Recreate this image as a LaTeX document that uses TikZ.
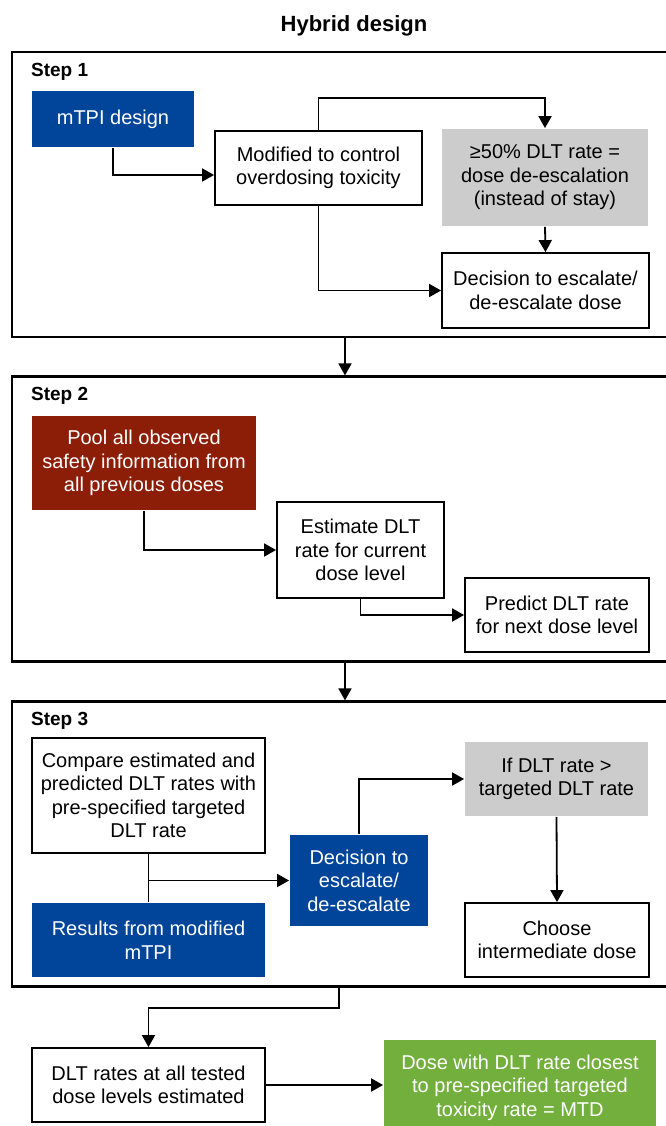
\documentclass[tikz,border=0pt]{standalone}
\usepackage{fontspec}
\setmainfont{Liberation Sans}
\usepackage{xcolor}
\usepackage{tikz}
\usetikzlibrary{arrows.meta, calc}

\definecolor{hbblue}{RGB}{0,69,153}
\definecolor{hbred}{RGB}{140,29,7}
\definecolor{hbgray}{RGB}{204,204,204}
\definecolor{hbgreen}{RGB}{115,175,60}

\begin{document}
\begin{tikzpicture}[
  x=1pt, y=-1pt,
  box/.style={draw, line width=1.8pt, minimum height=74pt, align=center,
              inner sep=2pt, font=\fontsize{20}{23.5}\selectfont},
  bluebox/.style={box, draw=none, fill=hbblue, text=white},
  redbox/.style ={box, draw=none, fill=hbred, text=white},
  graybox/.style={box, draw=none, fill=hbgray},
  greenbox/.style={box, draw=none, fill=hbgreen, text=white},
  stepframe/.style={draw, line width=2.2pt, minimum width=666pt,
                    minimum height=285pt, inner sep=0pt},
  steplbl/.style={anchor=base west, inner sep=0pt,
                  font=\fontsize{19}{22}\selectfont\bfseries},
  arr/.style={-{Triangle[length=12pt, width=13pt]}, line width=1.8pt},
  link/.style={line width=1.8pt},
]
  \useasboundingbox (0,0) rectangle (665,1126);

  % === Title ===
  \node[anchor=base, font=\fontsize{22}{26}\selectfont\bfseries] (title)
    at (354, 32) {Hybrid design};

  % === Step frames ===
  \node[stepframe] (frame1) at (345, 194.5) {};
  \node[stepframe] (frame2) at (345, 519) {};
  \node[stepframe] (frame3) at (345, 844) {};

  \node[steplbl] (lbl1) at ($(frame1.north west)+(20,26)$) {Step 1};
  \node[steplbl] (lbl2) at ($(frame2.north west)+(20,25)$) {Step 2};
  \node[steplbl] (lbl3) at ($(frame3.north west)+(20,25)$) {Step 3};

  \draw[arr] (frame1.south) -- (frame2.north);
  \draw[arr] (frame2.south) -- (frame3.north);

  % ============== Step 1 ==============
  \node[bluebox, minimum width=162pt, minimum height=56pt] (mtpi)
    at (113, 119) {mTPI design};
  \node[box, minimum width=207pt] (modified) at (318.5, 168)
    {Modified to control\\overdosing toxicity};
  \node[graybox, minimum width=206pt, minimum height=97pt] (rule50)
    at (545, 177.5)
    {≥50\% DLT rate =\\dose de-escalation\\(instead of stay)};
  \node[box, minimum width=207pt, minimum height=75pt] (decide1)
    at (545.5, 290.5) {Decision to escalate/\\de-escalate dose};

  \draw[arr] (mtpi.south) |- ($(modified.west)+(0,7)$);
  \draw[arr] (modified.north) -- ++(0,-32) -| (rule50.north);
  \draw[arr] (rule50.south) -- (decide1.north);
  \draw[arr] (modified.south) |- (decide1.west);

  % ============== Step 2 ==============
  \node[redbox, minimum width=224pt, minimum height=94pt] (pool)
    at (144, 463)
    {Pool all observed\\safety information from\\all previous doses};
  \node[box, minimum width=167pt, minimum height=96pt] (estimate)
    at (360.5, 550) {Estimate DLT\\rate for current\\dose level};
  \node[box, minimum width=184pt] (predict) at (557, 615)
    {Predict DLT rate\\for next dose level};

  \draw[arr] (pool.south) |- (estimate.west);
  \draw[arr] (estimate.south) |- (predict.west);

  % ============== Step 3 ==============
  \node[box, minimum width=233pt, minimum height=115pt] (compare)
    at (148.5, 795.5)
    {Compare estimated and\\predicted DLT rates with\\pre-specified targeted\\DLT rate};
  \node[bluebox, minimum width=233pt] (results) at (148.5, 940)
    {Results from modified\\mTPI};
  \node[bluebox, minimum width=138pt, minimum height=91pt] (decide3)
    at (359, 880.5) {Decision to\\escalate/\\de-escalate};
  \node[graybox, minimum width=183pt] (ifrate) at (556.5, 779)
    {If DLT rate >\\targeted DLT rate};
  \node[box, minimum width=184pt] (choose) at (557, 940)
    {Choose\\intermediate dose};

  \draw[link] (compare.south) -- (results.north);
  \draw[arr] (compare.south |- decide3.west) -- (decide3.west);
  \draw[arr] (decide3.north) |- (ifrate.west);
  \draw[arr] (ifrate.south) -- (choose.north);

  % === Outcome ===
  \node[box, minimum width=233pt] (dlt) at (148.5, 1085)
    {DLT rates at all tested\\dose levels estimated};
  \node[greenbox, minimum width=272pt, minimum height=95pt] (mtd)
    at (520, 1087.5)
    {Dose with DLT rate closest\\to pre-specified targeted\\toxicity rate = MTD};

  \draw[arr] ($(frame3.south)+(-6,0)$) -- ++(0,20) -| (dlt.north);
  \draw[arr] (dlt.east) -- (dlt.east -| mtd.west);

\end{tikzpicture}
\end{document}
